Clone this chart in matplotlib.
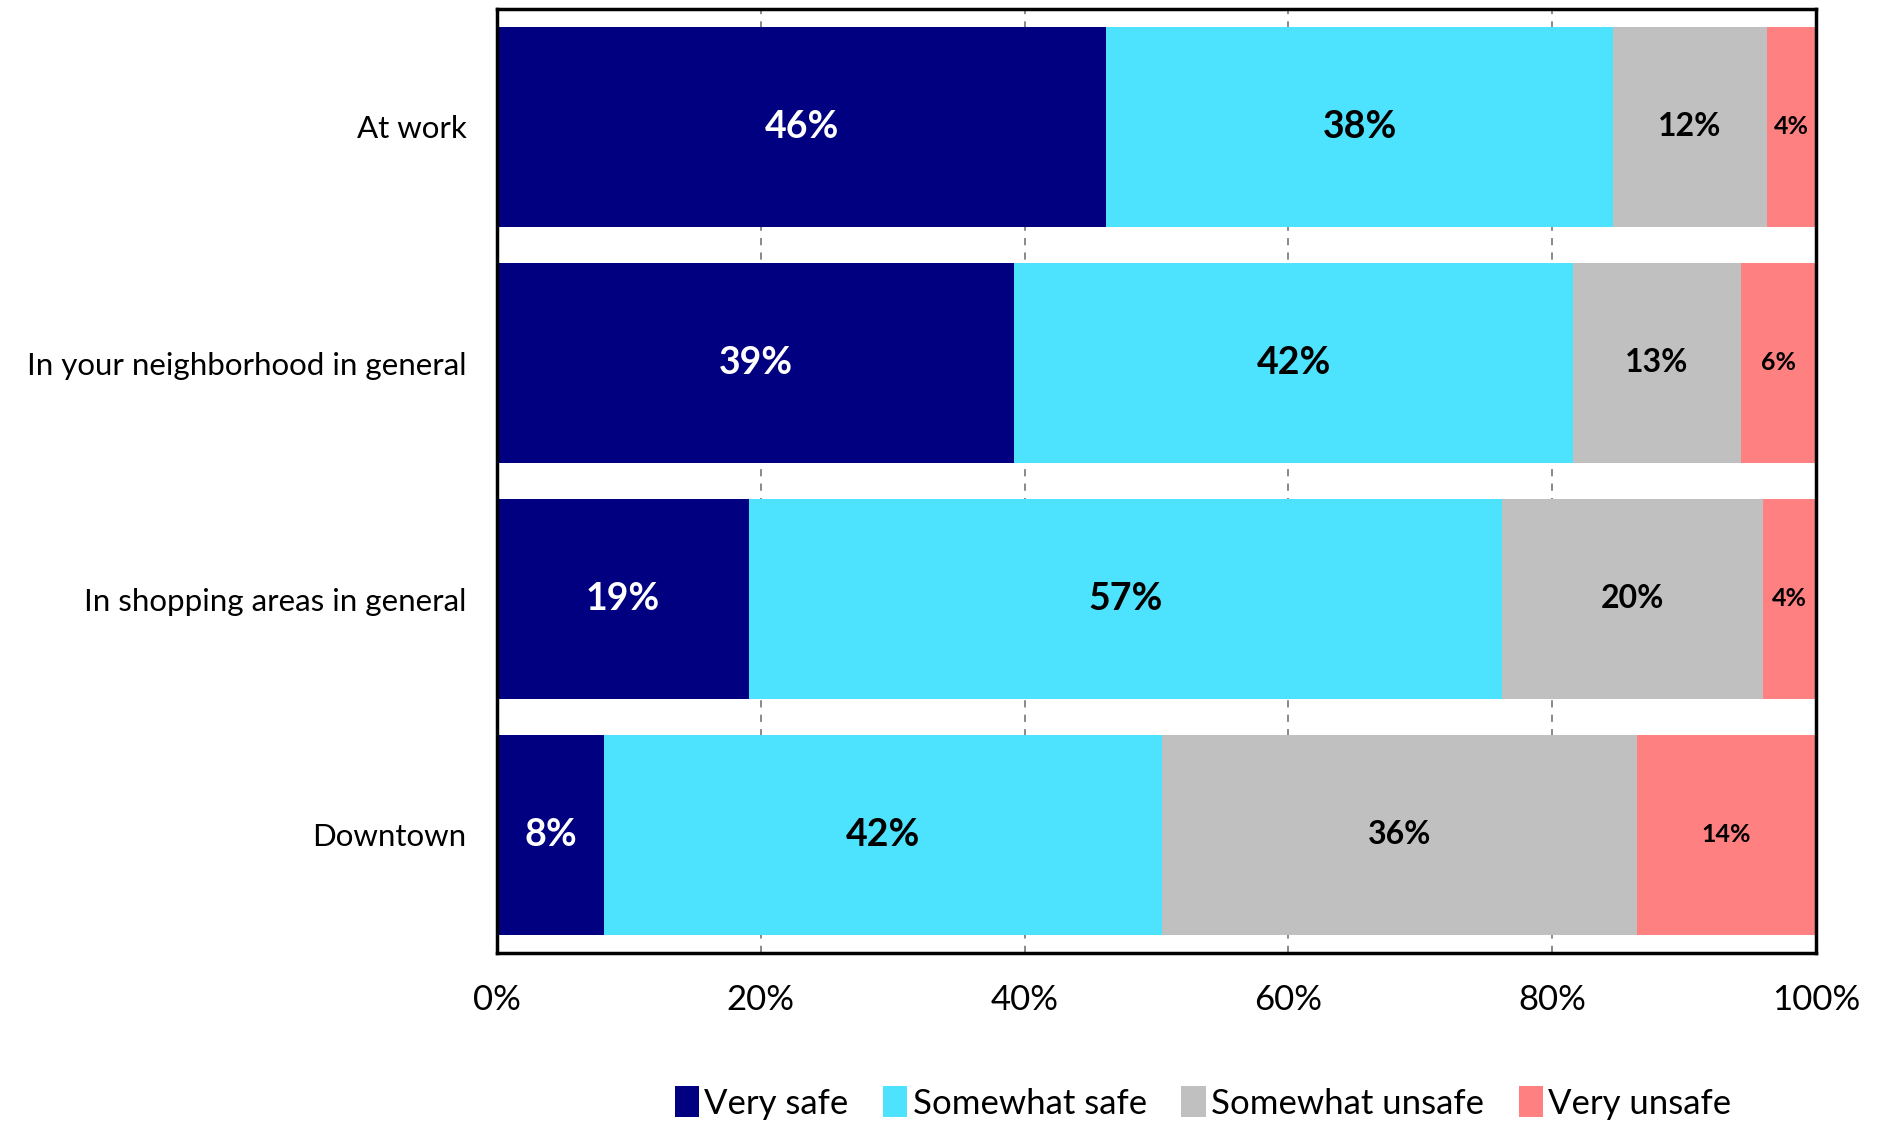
import matplotlib
matplotlib.use("Agg")
import matplotlib.pyplot as plt
import numpy as np

plt.rcParams['font.family'] = ['Lato', 'DejaVu Sans']

# данные (в процентах)
places = ["At work", "In your neighborhood in general",
          "In shopping areas in general", "Downtown"]
very_safe = [46.2, 39.2, 19.1, 8.1]
somewhat_safe = [38.4, 42.4, 57.1, 42.3]
somewhat_unsafe = [11.7, 12.7, 19.8, 36.0]
very_unsafe = [3.7, 5.7, 4.0, 13.6]

series_names = ["Very safe", "Somewhat safe", "Somewhat unsafe", "Very unsafe"]
colors = ["#000080", "#4DE3FE", "#C0C0C0", "#FF8080"]
label_colors = ["white", "black", "black", "black"]
label_sizes = [27, 27, 23, 18]

x_ticks = [0, 20, 40, 60, 80, 100]

fig = plt.figure(figsize=(18.87, 11.23), dpi=100)
ax = fig.add_axes([497/1887, 1 - 953/1123, (1816-497)/1887, (953-9)/1123])

y = np.arange(len(places))
left = np.zeros(len(places))
all_series = [very_safe, somewhat_safe, somewhat_unsafe, very_unsafe]
for i in range(0, len(all_series)):
    vals = np.array(all_series[i])
    ax.barh(y, vals, left=left, height=0.85, color=colors[i],
            label=series_names[i], zorder=2)
    for k in range(0, len(vals)):
        ax.text(left[k] + vals[k]/2, y[k], f"{vals[k]:.0f}%",
                ha='center', va='center', fontsize=label_sizes[i],
                fontweight='bold', color=label_colors[i], zorder=3)
    left = left + vals

ax.set_xlim(0, 100)
ax.set_ylim(len(places) - 0.5, -0.5)
ax.set_yticks(y)
ax.set_yticklabels(places, fontsize=22.5)
ax.set_xticks(x_ticks)
ax.set_xticklabels([f"{t}%" for t in x_ticks], fontsize=25)
ax.tick_params(axis='both', length=0)
ax.tick_params(axis='y', pad=22)
ax.tick_params(axis='x', pad=22)
ax.grid(axis='x', color='#808080', linestyle=(0, (4, 4)), linewidth=1.3, zorder=1)
for s in ax.spines.values():
    s.set_linewidth(2.5)
    s.set_color('black')

fig.legend(loc='center', bbox_to_anchor=(1203/1887, 1 - 1103/1123), ncol=4,
           frameon=False, fontsize=25, handlelength=0.7, handleheight=1.0,
           handletextpad=0.15, columnspacing=1.0, borderaxespad=0)

fig.savefig("out.png", dpi=100)
